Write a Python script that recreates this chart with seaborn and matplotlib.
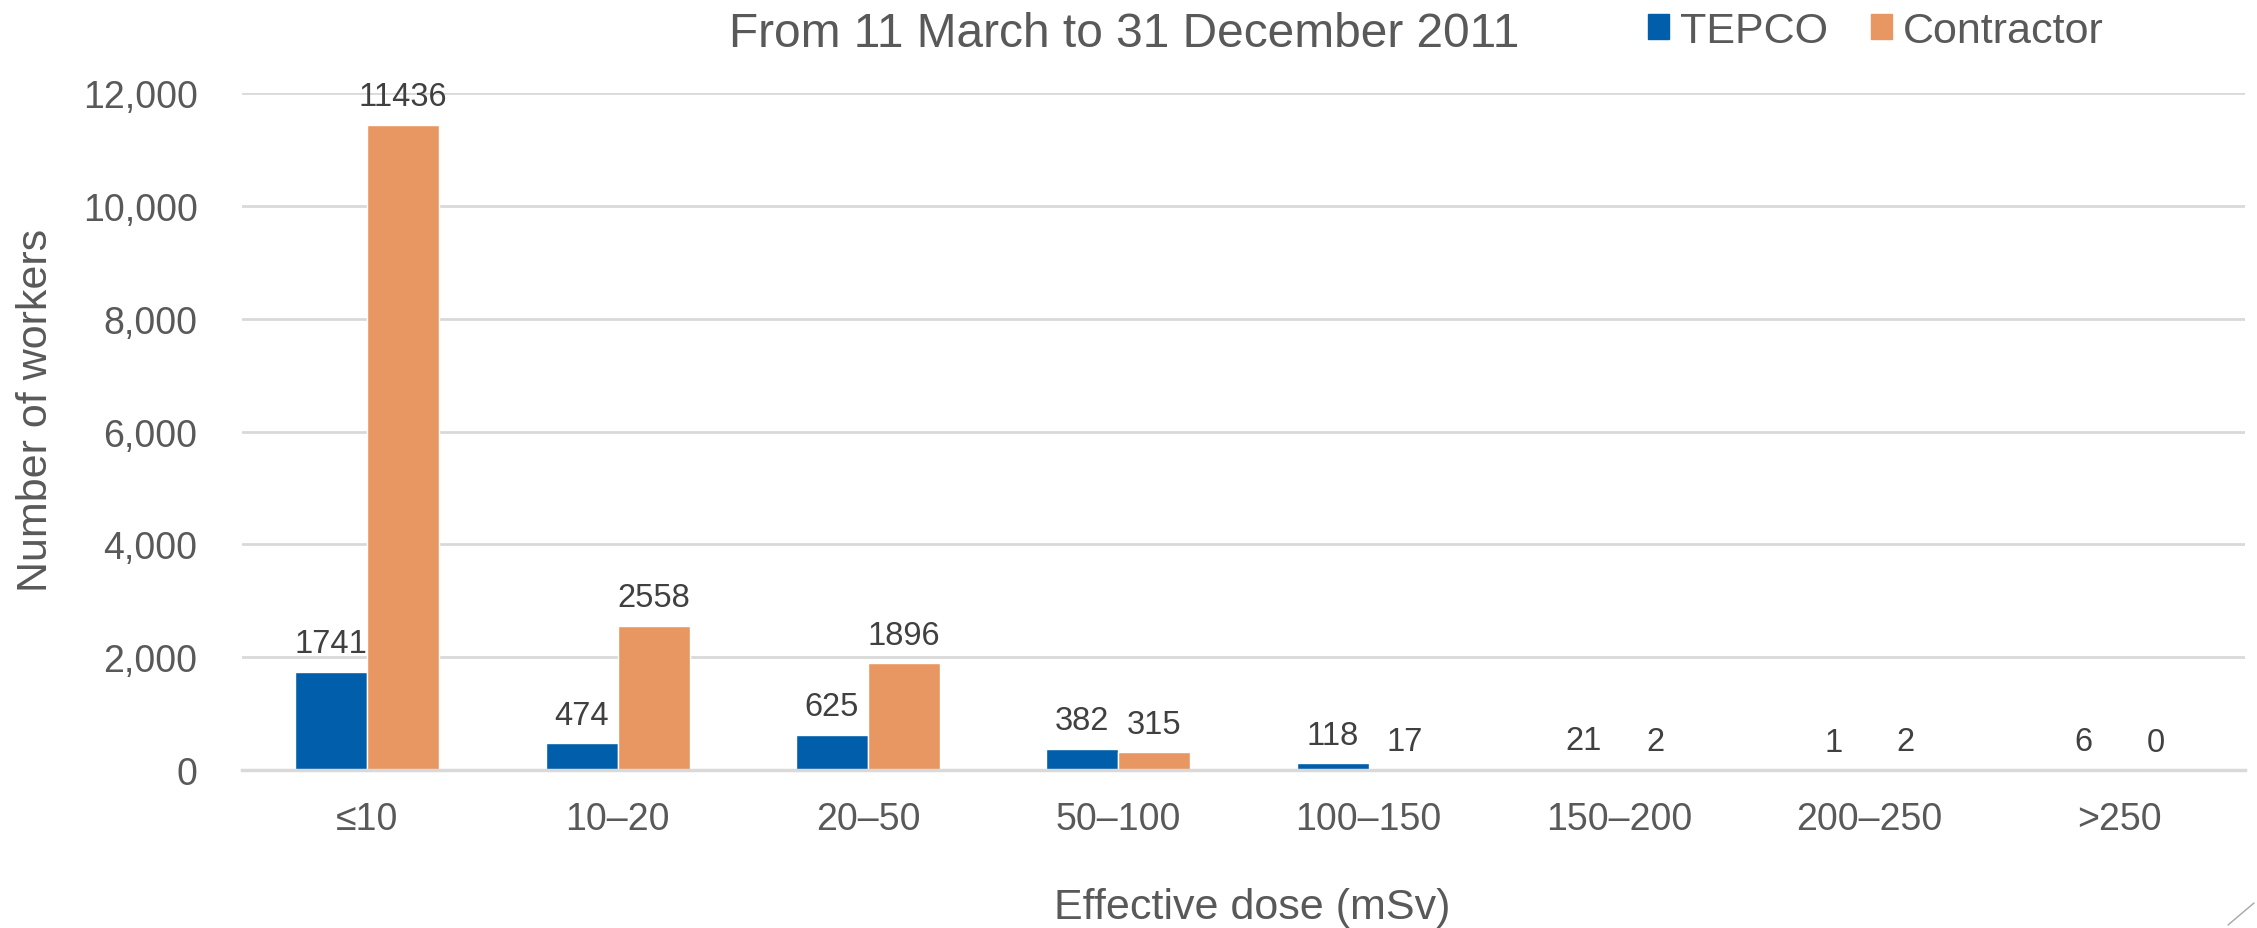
import pandas as pd
import matplotlib.pyplot as plt
import seaborn as sns
from matplotlib.ticker import FuncFormatter
from matplotlib.lines import Line2D

# ============================================================
# 데이터
# ============================================================
dose_bins = ["≤10", "10–20", "20–50", "50–100", "100–150", "150–200", "200–250", ">250"]
tepco = [1741, 474, 625, 382, 118, 21, 1, 6]
contractor = [11436, 2558, 1896, 315, 17, 2, 2, 0]
groups = ["TEPCO", "Contractor"]

df = pd.DataFrame({
    "dose": dose_bins * 2,
    "workers": tepco + contractor,
    "group": [groups[0]] * len(dose_bins) + [groups[1]] * len(dose_bins),
})

# ============================================================
# 스타일
# ============================================================
sns.set_style("white")
plt.rcParams["font.family"] = ["Liberation Sans", "DejaVu Sans"]
text_color = "#595959"
grid_color = "#D9D9D9"
palette = {"TEPCO": "#005EAA", "Contractor": "#E99762"}

fig = plt.figure(figsize=(22.57, 9.29), dpi=100)
ax = fig.add_axes([0.1072, 0.170, 0.8875, 0.7288])

sns.barplot(data=df, x="dose", y="workers", hue="group", order=dose_bins,
            hue_order=groups, palette=palette, width=0.575, gap=0,
            saturation=1, ax=ax, legend=False)

ax.set_ylim(0, 12000)
ax.set_xlim(-0.5, len(dose_bins) - 0.5)
ax.set_yticks(range(0, 12001, 2000))
ax.yaxis.set_major_formatter(FuncFormatter(lambda v, p: f"{int(v):,}"))
ax.yaxis.grid(True, color=grid_color, linewidth=2)
ax.set_axisbelow(True)
for s in ["top", "right", "left"]:
    ax.spines[s].set_visible(False)
ax.spines["bottom"].set_color(grid_color)
ax.spines["bottom"].set_linewidth(2.5)
ax.tick_params(axis="y", length=0, pad=32, labelsize=27, labelcolor=text_color)
ax.tick_params(axis="x", length=0, pad=22, labelsize=27, labelcolor=text_color)
ax.set_xlabel("")
ax.set_ylabel("")

# 데이터 레이블
for cont in ax.containers:
    ax.bar_label(cont, fmt="%d", padding=9, fontsize=23.5, color="#404040")

# 제목, 축 제목
fig.text(0.4982, 0.949, "From 11 March to 31 December 2011", ha="center", va="baseline",
         fontsize=34.5, color=text_color)
fig.text(0.016, 0.558, "Number of workers", rotation=90, ha="center", va="center",
         fontsize=31, color=text_color)
fig.text(0.555, 0.011, "Effective dose (mSv)", ha="center", va="baseline",
         fontsize=31, color=text_color)

# 범례
handles = [plt.Rectangle((0, 0), 1, 1, color=palette[g]) for g in groups]
fig.legend(handles, groups, loc="center left", bbox_to_anchor=(0.730, 0.966),
           ncol=2, frameon=False, fontsize=31, handlelength=0.5, handleheight=0.5,
           handletextpad=0.25, columnspacing=1.0, borderpad=0, borderaxespad=0,
           labelcolor=text_color)

# 오른쪽 아래 장식선
fig.add_artist(Line2D([2228 / 2257, 2254 / 2257], [1 - 926 / 929, 1 - 904 / 929],
                      transform=fig.transFigure, color="#A6A6A6", linewidth=1))

plt.savefig("out.png", dpi=100)
